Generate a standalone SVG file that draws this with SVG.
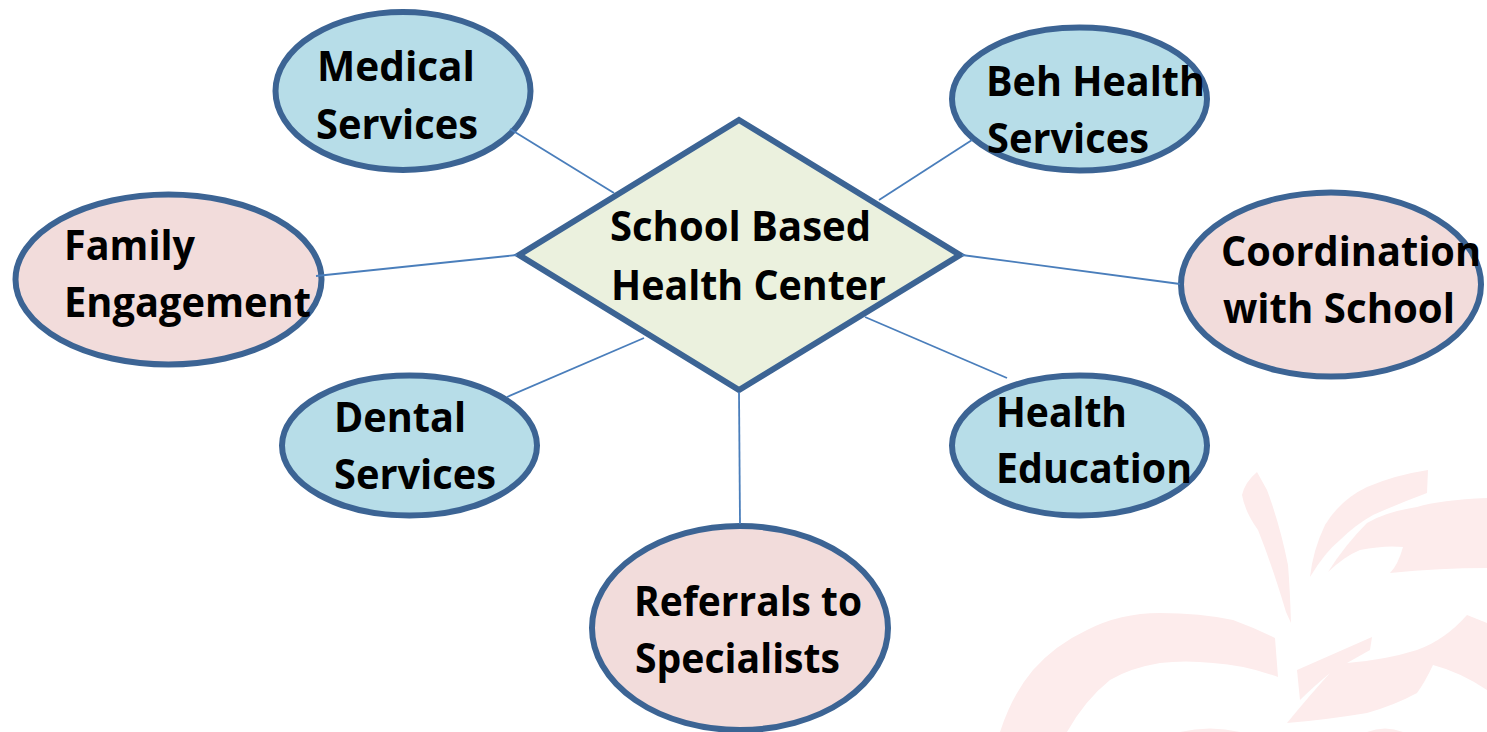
<svg xmlns="http://www.w3.org/2000/svg" width="1487" height="732" viewBox="0 0 1487 732">
<style>
.n{stroke:#3c6494;stroke-width:6}
.b{fill:#b7dde8}
.p{fill:#f2dcdb}
.g{fill:#ebf1de}
.t{font-family:"Open Sans","Noto Sans","Liberation Sans",sans-serif;font-weight:700;font-size:41px;fill:#000}
.c{stroke:#4a7ebb;stroke-width:1.8;fill:none}
.w{fill:#fdecec;stroke:none}
</style>
<rect width="1487" height="732" fill="#fff"/>
<g id="watermark">
<path class="w" d="M1257 472Q1245 482 1242 495Q1245 512 1258 530Q1272 565 1286 612L1291 623Q1290 590 1288 565Q1280 525 1267 490Z"/>
<path class="w" d="M1428 470Q1395 475 1367 487Q1340 500 1325 525Q1313 550 1310 577Q1325 552 1340 540Q1355 525 1373 515Q1400 503 1427 493Z"/>
<path class="w" d="M1487 498Q1440 500 1417 507Q1385 512 1367 523Q1345 545 1328 572Q1345 556 1360 550Q1385 545 1403 547Q1398 565 1390 573Q1440 568 1487 568Z"/>
<path class="w" d="M1000 732Q1012 695 1033 670Q1055 645 1087 630Q1120 613 1160 613Q1200 613 1233 620Q1255 628 1275 638L1278 677Q1245 665 1213 663Q1185 660 1160 663Q1130 668 1110 680Q1085 700 1067 732Z"/>
<path class="w" d="M1297 670L1372 637L1370 650L1347 663Q1385 660 1417 650Q1445 640 1467 615L1487 623V690Q1460 672 1433 665Q1425 682 1417 693Q1395 705 1367 713Q1325 720 1287 723Q1310 695 1330 673Q1312 688 1300 700Z"/>
<path class="w" d="M1180 732Q1210 725 1240 732Z"/>
<path class="w" d="M1367 732Q1385 725 1403 732Z"/>
</g>
<g id="node-medical"><ellipse class="n b" cx="403" cy="91" rx="127.500" ry="79"/><text class="t"><tspan x="317" y="81" textLength="158" lengthAdjust="spacingAndGlyphs">Medical</tspan><tspan x="316" y="139" textLength="162" lengthAdjust="spacingAndGlyphs">Services</tspan></text></g>
<g id="node-beh"><ellipse class="n b" cx="1079.500" cy="99" rx="127.500" ry="71.500"/><text class="t"><tspan x="986" y="96" textLength="219" lengthAdjust="spacingAndGlyphs">Beh Health</tspan><tspan x="987" y="153" textLength="162" lengthAdjust="spacingAndGlyphs">Services</tspan></text></g>
<g id="node-family"><ellipse class="n p" cx="168.500" cy="279.500" rx="153" ry="85"/><text class="t"><tspan x="64" y="260" textLength="131" lengthAdjust="spacingAndGlyphs">Family</tspan><tspan x="64" y="317" textLength="247" lengthAdjust="spacingAndGlyphs">Engagement</tspan></text></g>
<g id="node-coordination"><ellipse class="n p" cx="1331" cy="284.500" rx="150" ry="92"/><text class="t"><tspan x="1221" y="266" textLength="260" lengthAdjust="spacingAndGlyphs">Coordination</tspan><tspan x="1223" y="323" textLength="232" lengthAdjust="spacingAndGlyphs">with School</tspan></text></g>
<g id="node-dental"><ellipse class="n b" cx="409.500" cy="445.500" rx="127.500" ry="70"/><text class="t"><tspan x="334" y="432" textLength="132" lengthAdjust="spacingAndGlyphs">Dental</tspan><tspan x="334" y="489" textLength="162" lengthAdjust="spacingAndGlyphs">Services</tspan></text></g>
<g id="node-health"><ellipse class="n b" cx="1079.500" cy="445.500" rx="127.500" ry="70"/><text class="t"><tspan x="996" y="427" textLength="131" lengthAdjust="spacingAndGlyphs">Health</tspan><tspan x="996" y="483" textLength="196" lengthAdjust="spacingAndGlyphs">Education</tspan></text></g>
<g id="node-referrals"><ellipse class="n p" cx="740" cy="628" rx="148" ry="102"/><text class="t"><tspan x="634" y="616" textLength="228" lengthAdjust="spacingAndGlyphs">Referrals to</tspan><tspan x="635" y="673" textLength="205" lengthAdjust="spacingAndGlyphs">Specialists</tspan></text></g>
<g id="node-center"><path class="n g" stroke-linejoin="miter" d="M739 120L960 255L739 390L519 255Z"/><text class="t"><tspan x="610" y="241" textLength="261" lengthAdjust="spacingAndGlyphs">School Based</tspan><tspan x="611" y="300" textLength="275" lengthAdjust="spacingAndGlyphs">Health Center</tspan></text></g>
<g id="connectors">
<line class="c" x1="510" y1="129" x2="614" y2="193"/>
<line class="c" x1="972" y1="140" x2="879" y2="200"/>
<line class="c" x1="316" y1="276" x2="517" y2="255"/>
<line class="c" x1="962" y1="255" x2="1180" y2="284"/>
<line class="c" x1="507" y1="397" x2="644" y2="338"/>
<line class="c" x1="865" y1="317" x2="1007" y2="378"/>
<line class="c" x1="739" y1="392" x2="740" y2="524"/>
</g>
</svg>
